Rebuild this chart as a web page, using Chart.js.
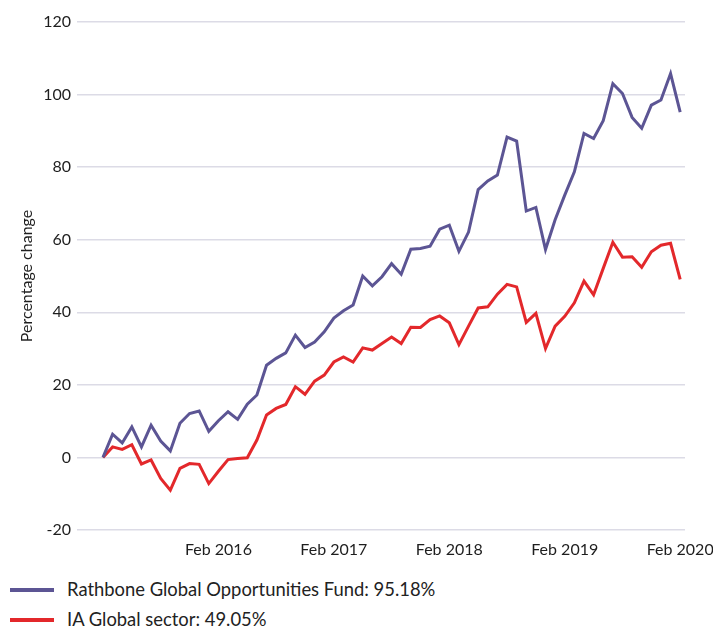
<!DOCTYPE html>
<html>
<head>
<meta charset="utf-8">
<script src="https://cdn.jsdelivr.net/npm/chart.js@4/dist/chart.umd.min.js"></script>
<style>
    html, body { margin: 0; padding: 0; background: #fff; }
    #wrap { position: relative; width: 713px; height: 627px; font-family: Lato, "Open Sans", sans-serif; color: #222; }
    #chartBox { position: absolute; left: 0; top: 0; width: 713px; height: 570px; }
    #legend { position: absolute; left: 0; top: 575px; }
    .item { position: relative; height: 30px; line-height: 28px; font-size: 18.4px; padding-left: 67px; white-space: nowrap; }
    .swatch { position: absolute; left: 10px; top: 13px; width: 44px; height: 4px; }
</style>
</head>
<body>
<div id="wrap">
    <div id="chartBox"><canvas id="chart"></canvas></div>
    <div id="legend"></div>
</div>
<script>
// Months since Feb 2015 (index 0 = Feb 2015, 60 = Feb 2020)
const fundName = 'Rathbone Global Opportunities Fund: 95.18%';
const sectorName = 'IA Global sector: 49.05%';

const fundValues = [
    0, 6.4, 4.0, 8.4, 2.9, 8.9, 4.5, 1.8, 9.4, 12.1, 12.8, 7.2,
    10.1, 12.6, 10.5, 14.7, 17.2, 25.4, 27.3, 28.8, 33.7, 30.3, 31.8, 34.6,
    38.4, 40.4, 42.0, 50.0, 47.3, 49.8, 53.4, 50.5, 57.4, 57.6, 58.2, 62.9,
    64.0, 56.8, 62.1, 73.8, 76.2, 77.8, 88.3, 87.2, 67.9, 68.9, 57.3, 65.5,
    72.3, 78.7, 89.3, 87.9, 92.8, 103.0, 100.3, 93.7, 90.7, 97.1, 98.5, 105.8,
    95.18
];

const sectorValues = [
    0, 2.9, 2.2, 3.5, -1.8, -0.7, -5.8, -9.0, -3.0, -1.7, -1.9, -7.2,
    -3.8, -0.6, -0.3, -0.1, 4.8, 11.7, 13.5, 14.6, 19.5, 17.4, 21.0, 22.7,
    26.3, 27.7, 26.3, 30.2, 29.6, 31.4, 33.2, 31.4, 35.9, 35.8, 38.0, 39.0,
    37.1, 31.1, 36.2, 41.2, 41.5, 45.0, 47.7, 47.0, 37.2, 39.7, 30.0, 36.2,
    38.9, 42.6, 48.6, 44.8, 52.1, 59.3, 55.2, 55.3, 52.4, 56.7, 58.5, 59.0,
    49.05
];

const tickMonths = [12, 24, 36, 48, 60];
const tickLabels = ['Feb 2016', 'Feb 2017', 'Feb 2018', 'Feb 2019', 'Feb 2020'];

const colors = { fund: '#5c5594', sector: '#e3282b', grid: '#dcdbe6', text: '#1e1e1e' };
const fontFamily = 'Lato, "Open Sans", sans-serif';

const toPoints = values => values.map((v, i) => ({ x: i, y: v }));

const series = [
    { label: fundName, data: toPoints(fundValues), color: colors.fund },
    { label: sectorName, data: toPoints(sectorValues), color: colors.sector }
];

new Chart(document.getElementById('chart'), {
    type: 'line',
    data: {
        datasets: series.map(s => ({
            label: s.label,
            data: s.data,
            borderColor: s.color,
            backgroundColor: s.color,
            borderWidth: 3,
            pointRadius: 0,
            tension: 0
        }))
    },
    options: {
        responsive: true,
        maintainAspectRatio: false,
        animation: false,
        layout: { padding: { top: 22, right: 28, bottom: 0, left: 0 } },
        plugins: {
            legend: { display: false },
            tooltip: { enabled: false }
        },
        scales: {
            x: {
                type: 'linear',
                min: -2.7,
                max: 60.5,
                afterBuildTicks: scale => {
                    scale.ticks = tickMonths.map(v => ({ value: v }));
                },
                afterFit: scale => {
                    scale.height = 40;
                    // let the last label run to the canvas edge
                    scale.paddingLeft = 0;
                    scale.paddingRight = 0;
                },
                grid: { display: false, drawTicks: false },
                border: { display: false },
                ticks: {
                    autoSkip: false,
                    maxRotation: 0,
                    padding: 10,
                    color: colors.text,
                    font: { family: fontFamily, size: 16 },
                    callback: v => tickLabels[tickMonths.indexOf(v)]
                }
            },
            y: {
                min: -20,
                max: 120,
                afterFit: scale => { scale.width = 77; },
                grid: { color: colors.grid, lineWidth: 1.5, drawTicks: false },
                border: { display: false },
                ticks: {
                    stepSize: 20,
                    padding: 6,
                    color: colors.text,
                    font: { family: fontFamily, size: 16 }
                },
                title: {
                    display: true,
                    text: 'Percentage change',
                    color: colors.text,
                    padding: { top: 17, bottom: 0 },
                    font: { family: fontFamily, size: 16 }
                }
            }
        }
    }
});

// Legend: one row per series, line swatch on the left
const legend = document.getElementById('legend');
series.forEach(s => {
    const item = document.createElement('div');
    item.className = 'item';
    const swatch = document.createElement('span');
    swatch.className = 'swatch';
    swatch.style.background = s.color;
    item.appendChild(swatch);
    item.appendChild(document.createTextNode(s.label));
    legend.appendChild(item);
});
</script>
</body>
</html>
